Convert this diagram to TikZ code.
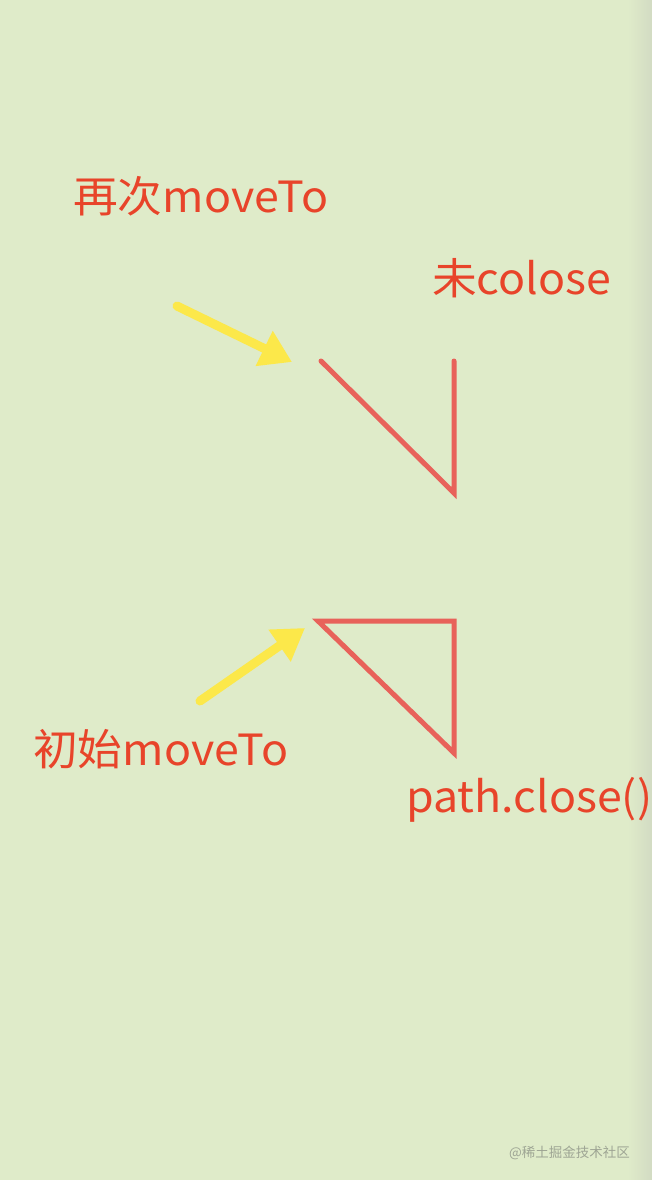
\documentclass[tikz,border=0pt]{standalone}
\usepackage{fontspec}
\newfontfamily\cjk{Noto Sans CJK SC}
\newfontfamily\cjkwide[FakeStretch=1.04]{Noto Sans CJK SC}
\usetikzlibrary{arrows.meta}
\definecolor{bg}{HTML}{DFEBC9}
\definecolor{bgedge}{HTML}{D2DBC3}
\definecolor{lbl}{HTML}{E8442A}
\definecolor{pathred}{HTML}{E8625A}
\definecolor{arrowy}{HTML}{FCE84A}
\definecolor{wm}{HTML}{9EA594}
\tikzset{
  lab/.style={inner sep=0pt, anchor=base west, text=lbl, font=\cjkwide\fontsize{43}{50}\selectfont},
  pathline/.style={draw=pathred, line width=5pt},
  yarrow/.style={draw=arrowy, line width=9pt, line cap=round, -{Triangle[length=31pt,width=37pt]}},
}
\begin{document}
\begin{tikzpicture}[x=1pt,y=-1pt]
\fill[bg] (0,0) rectangle (652,1180);
\shade[left color=bg, right color=bgedge] (628,0) rectangle (652,1180);
\useasboundingbox (0,0) rectangle (652,1180);

\node[lab] (t1) at (73,212) {再次moveTo};
\node[lab] (t2) at (432,294) {未colose};
\node[lab] (t3) at (33,765) {初始moveTo};
\node[lab] (t4) at (406,812) {path.close()};

% open path
\coordinate (a1) at (321,361);
\coordinate (a2) at (454,493);
\coordinate (a3) at (454,361);
\draw[pathline, line cap=round, line join=miter] (a1) -- (a2) -- (a3);

% closed path
\coordinate (b1) at (318,621);
\coordinate (b2) at (454,621);
\coordinate (b3) at (454,753);
\draw[pathline, line join=miter] (b1) -- (b2) -- (b3) -- cycle;

% arrows
\coordinate (u0) at (177,306);
\coordinate (u1) at (292,362);
\draw[yarrow] (u0) -- (u1);
\coordinate (l0) at (200,701);
\coordinate (l1) at (305,628);
\draw[yarrow] (l0) -- (l1);

\node[inner sep=0pt, anchor=base west, text=wm, font=\cjk\fontsize{13.5}{16}\selectfont] (wmk) at (509,1157) {@稀土掘金技术社区};
\end{tikzpicture}
\end{document}
